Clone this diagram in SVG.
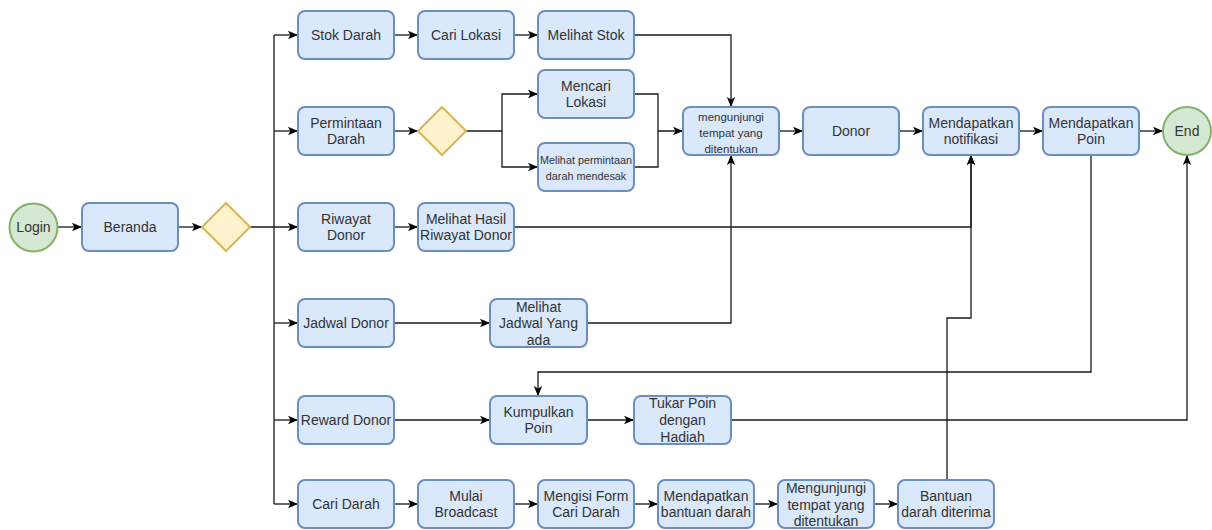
<svg xmlns="http://www.w3.org/2000/svg" width="1212" height="530" viewBox="0 0 1212 530">
  <style>
    .box { fill: #dae8fc; stroke: #6c8ebf; stroke-width: 2; }
    .dec { fill: #fff2cc; stroke: #d6b656; stroke-width: 2; }
    .term { fill: #d5e8d4; stroke: #82b366; stroke-width: 2; }
    .edge { fill: none; stroke: #1a1a1a; stroke-width: 1.3; }
    text { font-family: "Liberation Sans", Arial, sans-serif; font-size: 14px; fill: #333; text-anchor: middle; }
    .sm { font-size: 11.5px; }
    .xs { font-size: 10.8px; }
  </style>
  <defs>
    <marker id="arr" markerUnits="userSpaceOnUse" markerWidth="12" markerHeight="10" viewBox="0 0 12 10" refX="11" refY="5" orient="auto">
      <path d="M1,0.8 L11,5 L1,9.2 L3.5,5 Z" fill="#000"/>
    </marker>
  </defs>

  <!-- connectors -->
  <g id="connectors">
    <path class="edge" d="M58,227 H82" marker-end="url(#arr)"/>
    <path class="edge" d="M178,227 H202" marker-end="url(#arr)"/>
    <path class="edge" d="M274,35 V504"/>
    <path class="edge" d="M274,35 H298" marker-end="url(#arr)"/>
    <path class="edge" d="M274,131 H298" marker-end="url(#arr)"/>
    <path class="edge" d="M250,227 H298" marker-end="url(#arr)"/>
    <path class="edge" d="M274,323 H298" marker-end="url(#arr)"/>
    <path class="edge" d="M274,420 H298" marker-end="url(#arr)"/>
    <path class="edge" d="M274,504 H298" marker-end="url(#arr)"/>

    <path class="edge" d="M394,35 H418" marker-end="url(#arr)"/>
    <path class="edge" d="M514,35 H538" marker-end="url(#arr)"/>
    <path class="edge" d="M634,35 H731 V107" marker-end="url(#arr)"/>

    <path class="edge" d="M394,131 H418" marker-end="url(#arr)"/>
    <path class="edge" d="M466,131 H502 V94 H538" marker-end="url(#arr)"/>
    <path class="edge" d="M502,131 V167 H538" marker-end="url(#arr)"/>
    <path class="edge" d="M634,94 H658 V131 H683" marker-end="url(#arr)"/>
    <path class="edge" d="M634,167 H658 V131"/>

    <path class="edge" d="M779,131 H803" marker-end="url(#arr)"/>
    <path class="edge" d="M899,131 H923" marker-end="url(#arr)"/>
    <path class="edge" d="M1019,131 H1043" marker-end="url(#arr)"/>
    <path class="edge" d="M1139,131 H1163" marker-end="url(#arr)"/>

    <path class="edge" d="M394,227 H418" marker-end="url(#arr)"/>
    <path class="edge" d="M514,227 H971 V155" marker-end="url(#arr)"/>

    <path class="edge" d="M394,323 H490" marker-end="url(#arr)"/>
    <path class="edge" d="M587,323 H731 V155" marker-end="url(#arr)"/>

    <path class="edge" d="M1091,155 V372 H538 V396" marker-end="url(#arr)"/>

    <path class="edge" d="M394,420 H490" marker-end="url(#arr)"/>
    <path class="edge" d="M587,420 H634" marker-end="url(#arr)"/>
    <path class="edge" d="M731,420 H1187 V155" marker-end="url(#arr)"/>

    <path class="edge" d="M394,504 H418" marker-end="url(#arr)"/>
    <path class="edge" d="M514,504 H538" marker-end="url(#arr)"/>
    <path class="edge" d="M634,504 H658" marker-end="url(#arr)"/>
    <path class="edge" d="M754,504 H778" marker-end="url(#arr)"/>
    <path class="edge" d="M874,504 H898" marker-end="url(#arr)"/>
    <path class="edge" d="M947,480 V318 H971 V155" marker-end="url(#arr)"/>
  </g>

  <!-- start / end -->
  <g id="login"><circle class="term" cx="33.5" cy="227.5" r="24"/><text x="33.5" y="232">Login</text></g>
  <g id="end"><circle class="term" cx="1187" cy="131" r="24"/><text x="1187" y="136">End</text></g>

  <!-- decisions -->
  <g id="menu"><path class="dec" d="M226,203 L250,227 L226,251 L202,227 Z"/></g>
  <g id="pilih-permintaan"><path class="dec" d="M442,107 L466,131 L442,155 L418,131 Z"/></g>

  <!-- process steps -->
  <g id="beranda"><rect class="box" x="82" y="203" width="96" height="48" rx="7"/><text x="130" y="232">Beranda</text></g>

  <g id="stok-darah"><rect class="box" x="298" y="11" width="96" height="48" rx="7"/><text x="346" y="40">Stok Darah</text></g>
  <g id="permintaan-darah"><rect class="box" x="298" y="107" width="96" height="48" rx="7"/><text x="346" y="128">Permintaan</text><text x="346" y="144">Darah</text></g>
  <g id="riwayat-donor"><rect class="box" x="298" y="203" width="96" height="48" rx="7"/><text x="346" y="224">Riwayat</text><text x="346" y="240">Donor</text></g>
  <g id="jadwal-donor"><rect class="box" x="298" y="299" width="96" height="48" rx="7"/><text x="346" y="328">Jadwal Donor</text></g>
  <g id="reward-donor"><rect class="box" x="298" y="396" width="96" height="48" rx="7"/><text x="346" y="425">Reward Donor</text></g>
  <g id="cari-darah"><rect class="box" x="298" y="480" width="96" height="48" rx="7"/><text x="346" y="509">Cari Darah</text></g>

  <g id="cari-lokasi"><rect class="box" x="418" y="11" width="96" height="48" rx="7"/><text x="466" y="40">Cari Lokasi</text></g>
  <g id="melihat-stok"><rect class="box" x="538" y="11" width="96" height="48" rx="7"/><text x="586" y="40">Melihat Stok</text></g>
  <g id="mencari-lokasi"><rect class="box" x="538" y="70" width="96" height="48" rx="7"/><text x="586" y="91">Mencari</text><text x="586" y="107">Lokasi</text></g>
  <g id="permintaan-mendesak"><rect class="box" x="538" y="143" width="96" height="48" rx="7"/><text class="xs" x="586" y="164">Melihat permintaan</text><text class="xs" x="586" y="180">darah mendesak</text></g>

  <g id="mengunjungi"><rect class="box" x="683" y="107" width="96" height="48" rx="7"/><text class="sm" x="731" y="121">mengunjungi</text><text class="sm" x="731" y="137">tempat yang</text><text class="sm" x="731" y="153">ditentukan</text></g>
  <g id="donor"><rect class="box" x="803" y="107" width="96" height="48" rx="7"/><text x="851" y="136">Donor</text></g>
  <g id="notifikasi"><rect class="box" x="923" y="107" width="96" height="48" rx="7"/><text x="971" y="128">Mendapatkan</text><text x="971" y="144">notifikasi</text></g>
  <g id="mendapatkan-poin"><rect class="box" x="1043" y="107" width="96" height="48" rx="7"/><text x="1091" y="128">Mendapatkan</text><text x="1091" y="144">Poin</text></g>

  <g id="hasil-riwayat"><rect class="box" x="418" y="203" width="96" height="48" rx="7"/><text x="466" y="224">Melihat Hasil</text><text x="466" y="240">Riwayat Donor</text></g>
  <g id="melihat-jadwal"><rect class="box" x="490" y="299" width="97" height="48" rx="7"/><text x="538.5" y="312">Melihat</text><text x="538.5" y="328">Jadwal Yang</text><text x="538.5" y="345">ada</text></g>
  <g id="kumpulkan-poin"><rect class="box" x="490" y="396" width="97" height="48" rx="7"/><text x="538.5" y="417">Kumpulkan</text><text x="538.5" y="433">Poin</text></g>
  <g id="tukar-poin"><rect class="box" x="634" y="396" width="97" height="48" rx="7"/><text x="682.5" y="408">Tukar Poin</text><text x="682.5" y="425">dengan</text><text x="682.5" y="442">Hadiah</text></g>

  <g id="mulai-broadcast"><rect class="box" x="418" y="480" width="96" height="48" rx="7"/><text x="466" y="501">Mulai</text><text x="466" y="517">Broadcast</text></g>
  <g id="mengisi-form"><rect class="box" x="538" y="480" width="96" height="48" rx="7"/><text x="586" y="501">Mengisi Form</text><text x="586" y="517">Cari Darah</text></g>
  <g id="bantuan-darah"><rect class="box" x="658" y="480" width="96" height="48" rx="7"/><text x="706" y="501">Mendapatkan</text><text x="706" y="517">bantuan darah</text></g>
  <g id="mengunjungi-tempat"><rect class="box" x="778" y="480" width="96" height="48" rx="7"/><text x="826" y="493">Mengunjungi</text><text x="826" y="510">tempat yang</text><text x="826" y="526">ditentukan</text></g>
  <g id="bantuan-diterima"><rect class="box" x="898" y="480" width="96" height="48" rx="7"/><text x="946" y="501">Bantuan</text><text x="946" y="517">darah diterima</text></g>
</svg>
